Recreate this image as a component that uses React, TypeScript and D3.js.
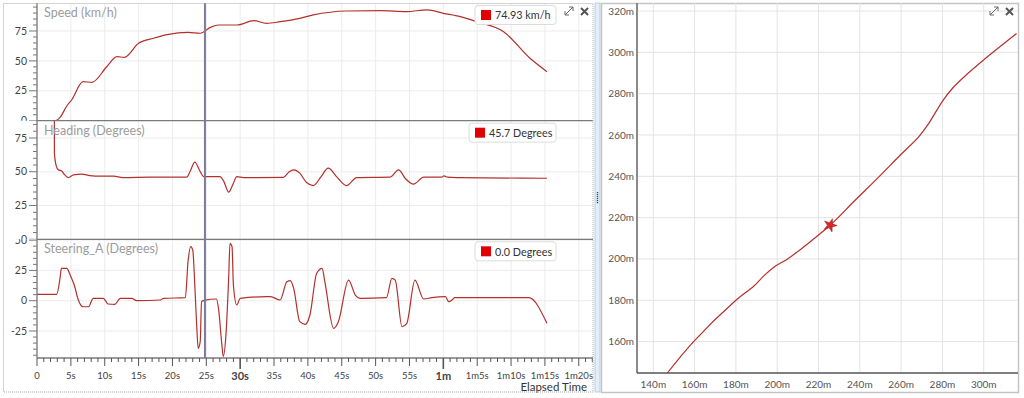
import React from 'react'
import * as d3 from 'd3'

// [seconds, km/h]
const speedPts: [number, number][] = [
  [0, 0], [2.7, 0], [3.4, 2.8], [4.4, 12.3], [5.1, 17.3], [6.8, 32.6], [8.1, 32.1],
  [10.3, 45.1], [11.8, 53.5], [12.9, 53], [15, 64.7], [17.2, 68.9], [19.2, 71.9],
  [22.3, 73.9], [24.1, 73.1], [25.6, 78], [26.8, 80], [29.5, 80], [32, 83.6],
  [33.9, 81.4], [35.9, 82.8], [38.8, 85.6], [40.8, 88.4], [45.7, 91.7], [50.7, 92],
  [54.6, 91.2], [57.6, 92.6], [60, 89.8], [62.5, 87], [64.9, 82.8], [68.9, 74.4],
  [72.8, 52.2], [75.3, 41],
]

// [seconds, degrees]
const headingPts: [number, number][] = [
  [0, 90], [2.56, 90], [2.57, 63.8], [2.8, 55.1], [3.15, 51.4], [3.6, 50.7], [4.1, 47.7],
  [4.6, 45.7], [5.4, 47.7], [6.6, 48.2], [7.8, 47.2], [9.3, 46.7], [11.3, 46.7],
  [12.7, 45.7], [16.7, 46], [22.1, 46], [22.6, 50.2], [23.3, 57.1], [24.1, 50.1],
  [24.6, 46.4], [27, 46.4], [27.6, 42.7], [28.3, 34.9], [28.9, 40.3], [29.5, 46.4],
  [30.5, 45.7], [36.4, 45.9], [37.2, 49.8], [37.9, 51.4], [38.8, 49], [39.8, 42],
  [40.8, 39.8], [41.9, 46], [43, 52.7], [44.3, 46], [45.7, 39.8], [47.2, 45.7],
  [52.1, 46], [53.4, 51.4], [54.4, 45], [55.6, 40.8], [57.1, 46], [59.8, 46.1],
  [60.1, 47], [60.6, 46], [62, 45.7], [75.3, 45.2],
]

// [seconds, degrees]
const steeringPts: [number, number][] = [
  [0, 5.3], [2.9, 5.3], [3.4, 18.5], [3.6, 26.7], [4.4, 26.7], [4.9, 21.2], [5.5, 13],
  [6.1, 0.6], [6.8, -5], [7.6, -5], [8.3, 2], [9.8, 2], [10.5, -2.7], [11.5, -3],
  [12.3, 2], [14, 2], [14.7, 0], [18.2, 0.6], [18.7, 2], [21.9, 2.5], [22.3, 32.2],
  [22.7, 44.6], [23, 41.8], [23.3, 13], [23.6, -22.8], [23.8, -39.3], [24.1, -33.8],
  [24.3, -0.8], [24.7, 0.3], [26.5, 1.4], [26.8, -6.3], [27.3, -36.5], [27.5, -46],
  [27.9, -28.3], [28.3, 18.5], [28.5, 47.4], [28.8, 44.6], [29, 13], [29.5, -3.5],
  [30, 2], [33.9, 3.3], [34.5, 3.3], [35.9, 0.6], [36.9, 15.7], [37.4, 16.5],
  [37.9, 10.2], [38.8, -17.3], [39.6, -19.5], [40.3, -11.8], [41.3, 22.6],
  [42.1, 26.7], [42.5, 15.7], [43.8, -22.8], [44.5, -17.3], [46, 17], [47, 4.7],
  [47.7, 2], [51.6, 2.5], [52.4, 18.5], [52.9, 17], [53.9, -21.5], [54.6, -18.7],
  [55.8, 17], [57.1, 1.4], [58.3, 2.5], [60.3, 3.3], [60.8, -0.8], [61.3, 0.6],
  [61.7, 2.5], [72.6, 2.5], [75.3, -18.7],
]

// [x m, y m]
const trackPts: [number, number][] = [
  [146.8, 144.8], [159.5, 160], [180, 180], [188.6, 186.8], [193.5, 191.8],
  [199, 196.5], [205, 200], [210.5, 204], [216.3, 208.6], [225.6, 216.3],
  [237.7, 228.4], [249, 239.5], [259.5, 250.2], [268.4, 259], [273.3, 265.5],
  [280.3, 276.8], [285.2, 283], [292, 289.5], [299.8, 296.2], [315.9, 309.1],
]
const trackMarker: [number, number] = [225.6, 216.3]

const xTickSeconds = d3.range(0, 81, 5)
const xTickLabels = ['0', '5s', '10s', '15s', '20s', '25s', '30s', '35s', '40s', '45s', '50s', '55s',
  '1m', '1m5s', '1m10s', '1m15s', '1m20s']
const speedTicks = [0, 25, 50, 75]
const headingTicks = [0, 25, 50, 75]
const steeringTicks = [-25, 0, 25, 50]
const trackXTicks = [140, 160, 180, 200, 220, 240, 260, 280, 300]
const trackYTicks = [160, 180, 200, 220, 240, 260, 280, 300, 320]
const legendTexts = ['74.93 km/h', '45.7 Degrees', '0.0 Degrees']
const titles = ['Speed (km/h)', 'Heading (Degrees)', 'Steering_A (Degrees)']
const cursorTime = 24.8

const FONT = 'Lato, "Noto Sans", sans-serif'
const LINE = '#b3302c'

export default function App() {
  const x = d3.scaleLinear().domain([0, 82.1]).range([37, 593])

  const panels = [
    { data: speedPts, ticks: speedTicks, y: d3.scaleLinear().domain([0, 98.4]).range([120.7, 3]), top: 3, bottom: 120.7, legendW: 81 },
    { data: headingPts, ticks: headingTicks, y: d3.scaleLinear().domain([0, 87.8]).range([239.3, 120.7]), top: 120.7, bottom: 239.3, legendW: 87 },
    { data: steeringPts, ticks: steeringTicks, y: d3.scaleLinear().domain([-47.3, 50.7]).range([358, 239.3]), top: 239.3, bottom: 358, legendW: 81 },
  ]

  const tx = d3.scaleLinear().domain([132.1, 316.6]).range([637, 1018])
  const ty = d3.scaleLinear().domain([144.8, 323.9]).range([373, 3])
  const trackLine = d3.line<[number, number]>().x(d => tx(d[0])).y(d => ty(d[1])).curve(d3.curveCatmullRom.alpha(0.5))
  const star = d3.symbol().type(d3.symbolStar).size(55)()

  const icons = (ix: number, iy: number) => (
    <g stroke="#666" fill="none">
      <path d={`M${ix},${iy + 8} L${ix + 8},${iy}`} strokeWidth={1} />
      <path d={`M${ix + 4},${iy} L${ix + 8},${iy} L${ix + 8},${iy + 4}`} strokeWidth={1} />
      <path d={`M${ix},${iy + 4} L${ix},${iy + 8} L${ix + 4},${iy + 8}`} strokeWidth={1} />
      <path d={`M${ix + 16},${iy + 1} L${ix + 23},${iy + 8} M${ix + 23},${iy + 1} L${ix + 16},${iy + 8}`} strokeWidth={2} stroke="#555" />
    </g>
  )

  return (
    <svg width={1024} height={398} style={{ position: 'absolute', left: 0, top: 0, background: '#fff' }} fontFamily={FONT}>
      <defs>
        {panels.map((p, i) => (
          <clipPath id={`cp${i}`} key={i}>
            <rect x={0} y={p.top} width={593} height={p.bottom - p.top} />
          </clipPath>
        ))}
        <clipPath id="cpTrack"><rect x={637} y={3} width={381} height={370} /></clipPath>
      </defs>
      <rect x={0} y={0} width={1024} height={398} fill="#fff" />

      {/* left chart */}
      {xTickSeconds.map(s => (
        <line key={s} x1={x(s)} x2={x(s)} y1={3} y2={358} stroke="#ececec" />
      ))}
      {panels.map((p, i) => {
        const line = d3.line<[number, number]>().x(d => x(d[0])).y(d => p.y(d[1])).curve(d3.curveMonotoneX)
        const [d0, d1] = p.y.domain()
        const minor = d3.range(Math.ceil(d0 / 5) * 5, d1, 5)
        return (
          <g key={i}>
            <g clipPath={`url(#cp${i})`}>
              {p.ticks.map(t => (
                <line key={t} x1={37} x2={593} y1={p.y(t)} y2={p.y(t)} stroke="#ececec" />
              ))}
              {minor.map(t => (
                <line key={t} x1={p.ticks.includes(t) ? 29 : 33} x2={37} y1={p.y(t)} y2={p.y(t)} stroke="#777" />
              ))}
              {p.ticks.map(t => (
                <text key={t} x={27} y={p.y(t)} dy="0.35em" textAnchor="end" fontSize={10.5} fill="#444">{t}</text>
              ))}
              <path d={line(p.data) ?? ''} fill="none" stroke={LINE} strokeWidth={1.2} />
            </g>
            <text x={44} y={p.top + 14} fontSize={12.5} fill="#9c9c9c">{titles[i]}</text>
            <rect x={556 - p.legendW} y={p.top + 2.5} width={p.legendW} height={19} rx={3} fill="#fff" stroke="#dcdcdc" />
            <rect x={556 - p.legendW + 6} y={p.top + 7} width={10} height={10} fill="#e00000" />
            <text x={556 - p.legendW + 20} y={p.top + 16.3} fontSize={10.8} fill="#333">{legendTexts[i]}</text>
            {i > 0 && <line x1={37} x2={593} y1={p.top} y2={p.top} stroke="#7a7a7a" strokeWidth={1.3} />}
          </g>
        )
      })}
      <line x1={37} x2={37} y1={3} y2={358} stroke="#7a7a7a" strokeWidth={1.3} />
      <line x1={37} x2={593} y1={358} y2={358} stroke="#7a7a7a" strokeWidth={1.3} />
      {d3.range(0, 83, 1).map(s => {
        const big = s === 30 || s === 60
        const len = big ? 11 : s % 5 === 0 ? 8 : 4
        return <line key={s} x1={x(s)} x2={x(s)} y1={358} y2={358 + len} stroke="#555" strokeWidth={big ? 1.6 : 1} />
      })}
      {xTickSeconds.map((s, i) => {
        const big = s === 30 || s === 60
        return (
          <text key={s} x={x(s)} y={big ? 380 : 379} textAnchor="middle" fontSize={big ? 11 : 9.5} fontWeight={big ? 'bold' : 'normal'} fill="#444">
            {xTickLabels[i]}
          </text>
        )
      })}
      <text x={587} y={391} textAnchor="end" fontSize={11.5} fill="#333">Elapsed Time</text>
      <line x1={x(cursorTime)} x2={x(cursorTime)} y1={3} y2={358} stroke="#7b7b9c" strokeWidth={2} />
      {icons(565, 7)}
      <rect x={3.5} y={3.5} width={589.5} height={388.5} fill="none" stroke="#a8a8a8" strokeDasharray="1,1" />

      {/* splitter */}
      <rect x={595} y={3} width={5} height={389} fill="#e4eef8" stroke="#a9c4dd" strokeWidth={0.8} />
      {d3.range(0, 6).map(k => (
        <rect key={k} x={596.8} y={192 + k * 2} width={1.4} height={1.2} fill="#2a4a6a" />
      ))}

      {/* right chart */}
      <rect x={601.5} y={3.5} width={417} height={389} fill="#fff" stroke="#c4c4c4" strokeWidth={1.5} />
      {trackXTicks.map(t => (
        <line key={t} x1={tx(t)} x2={tx(t)} y1={3} y2={373} stroke="#e3e3e3" />
      ))}
      {trackYTicks.map(t => (
        <line key={t} x1={637} x2={1018} y1={ty(t)} y2={ty(t)} stroke="#e3e3e3" />
      ))}
      <g clipPath="url(#cpTrack)">
        <path d={trackLine(trackPts) ?? ''} fill="none" stroke={LINE} strokeWidth={1.2} />
        <path d={star ?? ''} transform={`translate(${tx(trackMarker[0])},${ty(trackMarker[1])}) rotate(20)`} fill="#d42a2a" stroke="#b02020" strokeWidth={0.5} />
      </g>
      <line x1={637} x2={637} y1={3} y2={373} stroke="#8a8a8a" strokeWidth={2} />
      <line x1={637} x2={1018} y1={373} y2={373} stroke="#555" strokeWidth={1.3} />
      {trackYTicks.map(t => (
        <text key={t} x={634} y={ty(t)} dy="0.35em" textAnchor="end" fontSize={10} fill="#555">{`${t}m`}</text>
      ))}
      {trackXTicks.map(t => (
        <text key={t} x={tx(t)} y={388} textAnchor="middle" fontSize={10} fill="#555">{`${t}m`}</text>
      ))}
      {icons(990, 7)}
    </svg>
  )
}
